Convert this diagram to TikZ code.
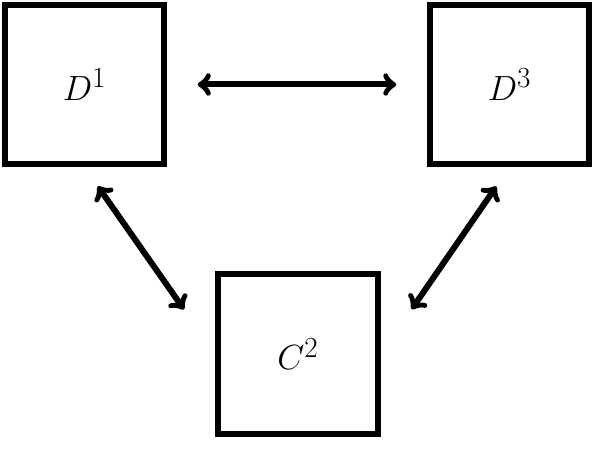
\documentclass[tikz,border=0pt]{standalone}
\usetikzlibrary{arrows.meta}
\begin{document}
\begin{tikzpicture}[box/.style={draw,line width=.15cm,minimum size=3.99cm,inner sep=0pt,font=\fontsize{31}{37}\selectfont},
link/.style={<->,>={to[scale=1.3]},line width=.15cm}]
\useasboundingbox (0,0) rectangle (14.9,-11.35);
\node[box] (D1) at (2.1125,-2.1125) {$D^1$};
\node[box] (D3) at (12.7375,-2.1125) {$D^3$};
\node[box] (C2) at (7.45,-8.85) {$C^2$};
\draw[link,shorten <=.76cm,shorten >=.76cm] (D1.east) -- (D3.west);
\draw[link,shorten <=.58cm,shorten >=1.36cm] (D1.south) -- (C2.west);
\draw[link,shorten <=.58cm,shorten >=1.36cm] (D3.south) -- (C2.east);
\end{tikzpicture}
\end{document}
